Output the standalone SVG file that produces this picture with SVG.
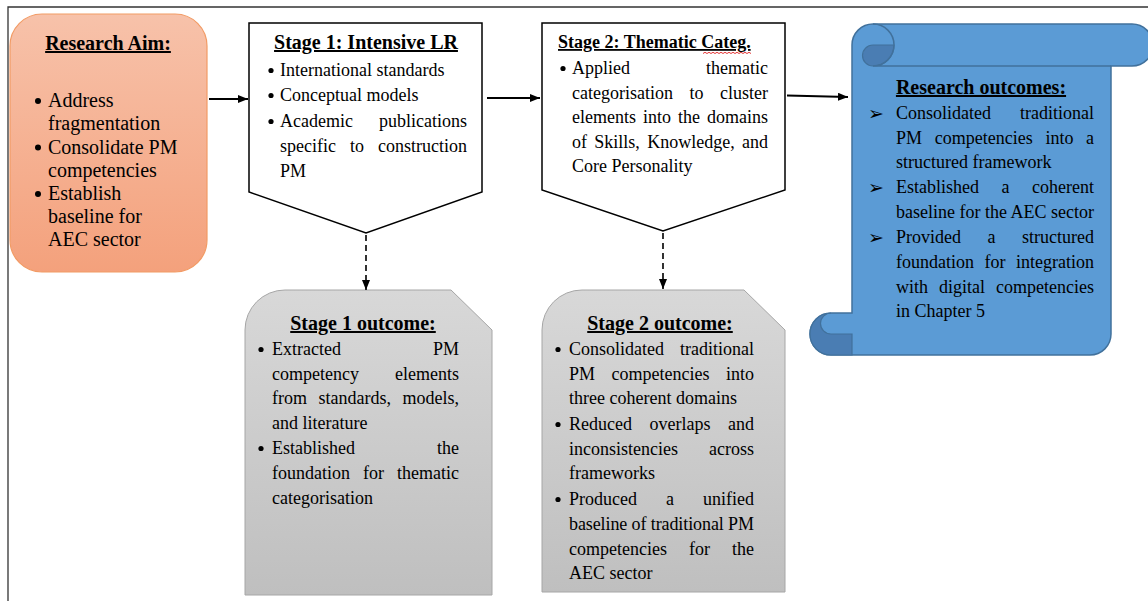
<svg xmlns="http://www.w3.org/2000/svg" width="1148" height="601" viewBox="0 0 1148 601">
  <defs>
    <linearGradient id="gAim" x1="0" y1="0" x2="0" y2="1">
      <stop offset="0" stop-color="#f7c2aa"/>
      <stop offset="1" stop-color="#f4a17c"/>
    </linearGradient>
    <linearGradient id="gGray" x1="0" y1="0" x2="0" y2="1">
      <stop offset="0" stop-color="#d8d8d8"/>
      <stop offset="1" stop-color="#bfbfbf"/>
    </linearGradient>
    <marker id="arr" viewBox="0 0 10 8" refX="10" refY="4" markerWidth="10" markerHeight="8" markerUnits="userSpaceOnUse" orient="auto">
      <path d="M0,0 L10,4 L0,8 Z" fill="#000"/>
    </marker>
    <style>
      text { font-family: 'Liberation Serif', 'Times New Roman', serif; fill: #000; }
      .t { font-size: 18px; }
      .a { font-size: 20px; }
      .h { font-weight: bold; font-size: 20px; text-decoration: underline; }
      .e { text-anchor: end; }
      .m { text-anchor: middle; }
      .dot { fill: #000; }
      .ab { font-family: 'DejaVu Sans', sans-serif; font-size: 19px; text-anchor: middle; }
      .box { fill: #fff; stroke: #000; stroke-width: 1.5; }
      .gray { fill: url(#gGray); stroke: #a6a6a6; stroke-width: 1; }
      .conn { stroke: #000; stroke-width: 2; fill: none; }
      .dash { stroke-dasharray: 6 4; stroke-width: 1.6; }
    </style>
  </defs>

  <!-- page frame -->
  <path d="M8,601 L8,7 L1148,7" fill="none" stroke="#333" stroke-width="1.3"/>

  <!-- research aim -->
  <g id="research-aim">
    <rect x="10" y="14" width="197" height="258" rx="32" ry="32" fill="url(#gAim)" stroke="#f29b65" stroke-width="1.2"/>
    <text class="h m" x="108" y="50">Research Aim:</text>
    <circle class="dot" cx="38" cy="101" r="3"/>
    <circle class="dot" cx="38" cy="147.5" r="3"/>
    <circle class="dot" cx="38" cy="194" r="3"/>
    <g class="t a">
      <text x="48" y="107">Address</text>
      <text x="48" y="130">fragmentation</text>
      <text x="48" y="153.5">Consolidate PM</text>
      <text x="48" y="176.5">competencies</text>
      <text x="48" y="200">Establish</text>
      <text x="48" y="223">baseline for</text>
      <text x="48" y="246">AEC sector</text>
    </g>
  </g>

  <!-- stage 1 -->
  <g id="stage1">
    <path class="box" d="M249,23 L482,23 L482,192 L366,233 L249,192 Z"/>
    <text class="h m" x="366" y="49">Stage 1: Intensive LR</text>
    <circle class="dot" cx="271" cy="70.5" r="2.6"/>
    <circle class="dot" cx="271" cy="95.5" r="2.6"/>
    <circle class="dot" cx="271" cy="121.5" r="2.6"/>
    <g class="t">
      <text x="280" y="76">International standards</text>
      <text x="280" y="101">Conceptual models</text>
      <text x="280" y="127">Academic</text>
      <text class="e" x="467" y="127">publications</text>
      <text x="280" y="152">specific</text>
      <text x="350" y="152">to</text>
      <text class="e" x="467" y="152">construction</text>
      <text x="280" y="177">PM</text>
    </g>
  </g>

  <!-- stage 2 -->
  <g id="stage2">
    <path class="box" d="M542,23 L785,23 L785,190 L663,231 L542,190 Z"/>
    <text class="h" x="558" y="48" style="font-size:18px">Stage 2: Thematic Categ.</text>
    <path d="M703,53.5 l2,-1.2 l2,1.2 l2,-1.2 l2,1.2 l2,-1.2 l2,1.2 l2,-1.2 l2,1.2 l2,-1.2 l2,1.2 l2,-1.2 l2,1.2 l2,-1.2 l2,1.2 l2,-1.2 l2,1.2 l2,-1.2 l2,1.2 l2,-1.2 l2,1.2 l2,-1.2 l2,1.2 l2,-1.2 l2,1.2" fill="none" stroke="#e02020" stroke-width="0.9"/>
    <circle class="dot" cx="563" cy="68.5" r="2.6"/>
    <g class="t">
      <text x="572" y="74">Applied</text>
      <text class="e" x="768" y="74">thematic</text>
      <text x="572" y="99">categorisation</text>
      <text x="689.5" y="99">to</text>
      <text class="e" x="768" y="99">cluster</text>
      <text x="572" y="123">elements</text>
      <text x="643" y="123">into</text>
      <text x="678" y="123">the</text>
      <text class="e" x="768" y="123">domains</text>
      <text x="572" y="148">of</text>
      <text x="594.3" y="148">Skills,</text>
      <text x="647.2" y="148">Knowledge,</text>
      <text class="e" x="768" y="148">and</text>
      <text x="572" y="172">Core Personality</text>
    </g>
  </g>

  <!-- stage 1 outcome -->
  <g id="stage1-outcome">
    <path class="gray" d="M245,595 L245,330 A40,40 0 0 1 285,290 L451,290 L492,330 L492,595 Z"/>
    <text class="h m" x="363" y="330">Stage 1 outcome:</text>
    <circle class="dot" cx="261" cy="349.5" r="2.6"/>
    <circle class="dot" cx="261" cy="448.5" r="2.6"/>
    <g class="t">
      <text x="272" y="355">Extracted</text>
      <text class="e" x="459" y="355">PM</text>
      <text x="272" y="380">competency</text>
      <text class="e" x="459" y="380">elements</text>
      <text x="272" y="404">from</text>
      <text x="318.5" y="404">standards,</text>
      <text class="e" x="459" y="404">models,</text>
      <text x="272" y="429">and literature</text>
      <text x="272" y="454">Established</text>
      <text class="e" x="459" y="454">the</text>
      <text x="272" y="479">foundation</text>
      <text x="363" y="479">for</text>
      <text class="e" x="459" y="479">thematic</text>
      <text x="272" y="504">categorisation</text>
    </g>
  </g>

  <!-- stage 2 outcome -->
  <g id="stage2-outcome">
    <path class="gray" d="M542,592 L542,330 A40,40 0 0 1 582,290 L744,290 L785,330 L785,592 Z"/>
    <text class="h m" x="660" y="330">Stage 2 outcome:</text>
    <circle class="dot" cx="558" cy="349.5" r="2.6"/>
    <circle class="dot" cx="558" cy="424.5" r="2.6"/>
    <circle class="dot" cx="558" cy="499.5" r="2.6"/>
    <g class="t">
      <text x="569" y="355">Consolidated</text>
      <text class="e" x="754" y="355">traditional</text>
      <text x="569" y="380">PM</text>
      <text x="611.5" y="380">competencies</text>
      <text class="e" x="754" y="380">into</text>
      <text x="569" y="404">three coherent domains</text>
      <text x="569" y="430">Reduced</text>
      <text x="649.5" y="430">overlaps</text>
      <text class="e" x="754" y="430">and</text>
      <text x="569" y="455">inconsistencies</text>
      <text class="e" x="754" y="455">across</text>
      <text x="569" y="479">frameworks</text>
      <text x="569" y="505">Produced</text>
      <text x="666" y="505">a</text>
      <text class="e" x="754" y="505">unified</text>
      <text x="569" y="530" textLength="185" lengthAdjust="spacing">baseline of traditional PM</text>
      <text x="569" y="555">competencies</text>
      <text x="689" y="555">for</text>
      <text class="e" x="754" y="555">the</text>
      <text x="569" y="579">AEC sector</text>
    </g>
  </g>

  <!-- research outcomes scroll -->
  <g id="research-outcomes">
    <path d="M852,45 A21,21 0 0 1 873,24 L1132,24 A21,21 0 0 1 1132,66 L1111,66 L1111,334 A21,21 0 0 1 1090,355 L831,355 A21,21 0 0 1 831,313 L852,313 Z" fill="#5b9bd5" stroke="#41719c" stroke-width="1.5"/>
    <!-- top roll -->
    <path d="M873,45 A10.5,10.5 0 0 0 873,66 A21,21 0 0 0 894,45 Z" fill="#4a7db3" stroke="#41719c" stroke-width="1.2"/>
    <path d="M873,24 A21,21 0 0 1 873,66 L1111,66" fill="none" stroke="#41719c" stroke-width="1.5"/>
    <!-- bottom roll -->
    <path d="M831,313 A21,21 0 0 0 831,355 L852,355 L852,334 L831,334 A10.5,10.5 0 0 1 831,313 Z" fill="#4a7db3" stroke="#41719c" stroke-width="1.2"/>
    <text class="h m" x="981" y="94">Research outcomes:</text>
    <text class="ab" x="876" y="120">➢</text>
    <text class="ab" x="876" y="194">➢</text>
    <text class="ab" x="876" y="244">➢</text>
    <g class="t">
      <text x="896" y="119">Consolidated</text>
      <text class="e" x="1094" y="119">traditional</text>
      <text x="896" y="144">PM</text>
      <text x="934.7" y="144">competencies</text>
      <text x="1045.4" y="144">into</text>
      <text class="e" x="1094" y="144">a</text>
      <text x="896" y="168">structured framework</text>
      <text x="896" y="193">Established</text>
      <text x="1001.5" y="193">a</text>
      <text class="e" x="1094" y="193">coherent</text>
      <text x="896" y="218">baseline for the AEC sector</text>
      <text x="896" y="243">Provided</text>
      <text x="987.5" y="243">a</text>
      <text class="e" x="1094" y="243">structured</text>
      <text x="896" y="268">foundation</text>
      <text x="984.5" y="268">for</text>
      <text class="e" x="1094" y="268">integration</text>
      <text x="896" y="293">with</text>
      <text x="939" y="293">digital</text>
      <text class="e" x="1094" y="293">competencies</text>
      <text x="896" y="317">in Chapter 5</text>
    </g>
  </g>

  <!-- connectors -->
  <g id="connectors">
    <line class="conn" x1="209" y1="99" x2="248" y2="99" marker-end="url(#arr)"/>
    <line class="conn" x1="487" y1="98" x2="540" y2="98" marker-end="url(#arr)"/>
    <line class="conn" x1="787" y1="95.5" x2="848" y2="97" marker-end="url(#arr)"/>
    <line class="conn dash" x1="366" y1="235" x2="366" y2="290" marker-end="url(#arr)"/>
    <line class="conn dash" x1="663" y1="233" x2="663" y2="289" marker-end="url(#arr)"/>
  </g>
</svg>
